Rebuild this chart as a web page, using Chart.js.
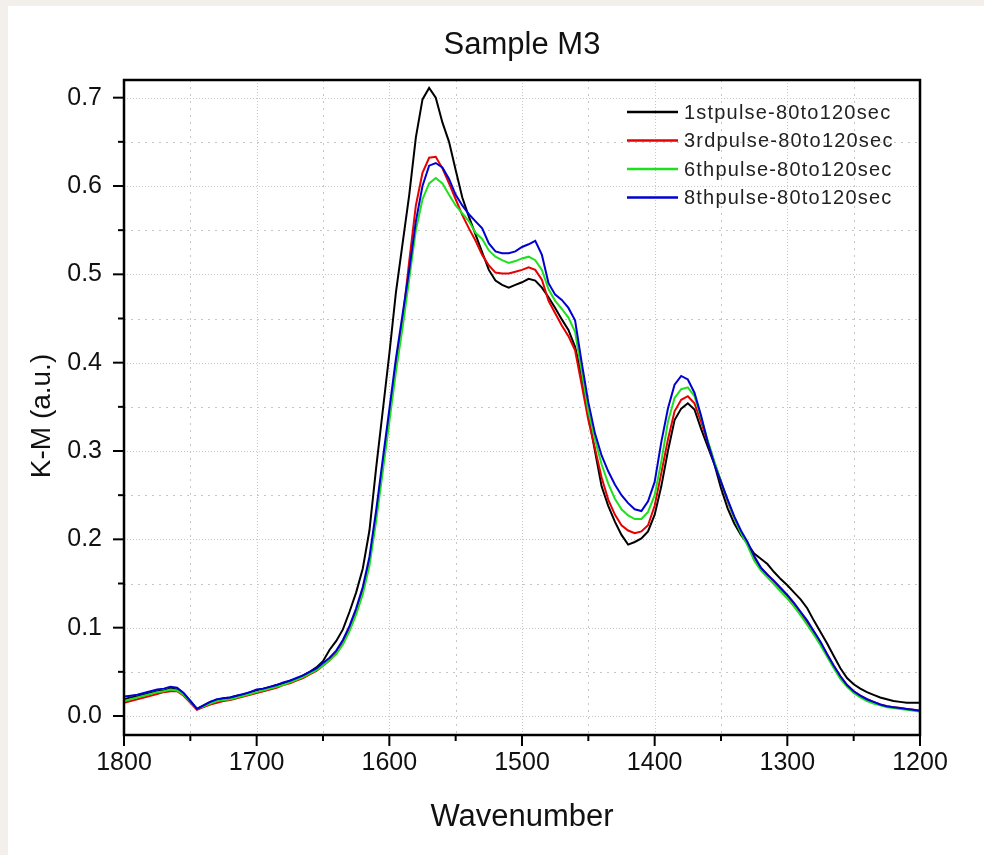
<!DOCTYPE html>
<html>
<head>
<meta charset="utf-8">
<script src="https://cdn.jsdelivr.net/npm/chart.js@4.4.0/dist/chart.umd.min.js"></script>
<style>
  html, body { margin: 0; padding: 0; background: #f3f0eb; }
  #card { position: absolute; left: 8px; top: 6px; right: 0; bottom: 0; background: #fff; }
  #grafico { position: absolute; left: 0; top: 0; }
</style>
</head>
<body>
<div id="card"></div>
<canvas id="grafico" width="984" height="855"></canvas>
<script>
// asse x (numero d'onda, da 1800 a 1200 ogni 5)
var wavenumbers = [
  1800,1795,1790,1785,1780,1775,1770,1765,1760,1755,
  1750,1745,1740,1735,1730,1725,1720,1715,1710,1705,
  1700,1695,1690,1685,1680,1675,1670,1665,1660,1655,
  1650,1645,1640,1635,1630,1625,1620,1615,1610,1605,
  1600,1595,1590,1585,1580,1575,1570,1565,1560,1555,
  1550,1545,1540,1535,1530,1525,1520,1515,1510,1505,
  1500,1495,1490,1485,1480,1475,1470,1465,1460,1455,
  1450,1445,1440,1435,1430,1425,1420,1415,1410,1405,
  1400,1395,1390,1385,1380,1375,1370,1365,1360,1355,
  1350,1345,1340,1335,1330,1325,1320,1315,1310,1305,
  1300,1295,1290,1285,1280,1275,1270,1265,1260,1255,
  1250,1245,1240,1235,1230,1225,1220,1215,1210,1205,
  1200
];

var pulse1 = [
  0.019,0.021,0.022,0.024,0.026,0.028,0.029,0.031,0.030,0.025,
  0.017,0.008,0.012,0.016,0.018,0.020,0.021,0.023,0.024,0.027,
  0.029,0.031,0.033,0.035,0.037,0.040,0.042,0.046,0.050,0.055,
  0.062,0.075,0.085,0.098,0.118,0.140,0.167,0.210,0.280,0.345,
  0.410,0.480,0.535,0.590,0.655,0.698,0.711,0.700,0.672,0.650,
  0.618,0.587,0.565,0.545,0.525,0.505,0.493,0.488,0.485,0.488,
  0.491,0.495,0.493,0.485,0.474,0.462,0.449,0.437,0.418,0.385,
  0.340,0.300,0.260,0.238,0.220,0.205,0.194,0.197,0.201,0.209,
  0.228,0.260,0.300,0.335,0.348,0.354,0.347,0.325,0.305,0.285,
  0.258,0.235,0.218,0.205,0.195,0.184,0.178,0.172,0.163,0.155,
  0.148,0.140,0.132,0.122,0.108,0.095,0.082,0.068,0.054,0.043,
  0.036,0.031,0.027,0.024,0.021,0.019,0.017,0.016,0.015,0.015,
  0.015
];

var pulse3 = [
  0.015,0.017,0.019,0.021,0.023,0.025,0.027,0.028,0.028,0.023,
  0.015,0.007,0.010,0.013,0.015,0.017,0.018,0.020,0.022,0.024,
  0.026,0.028,0.030,0.032,0.035,0.037,0.040,0.043,0.047,0.051,
  0.057,0.063,0.071,0.083,0.098,0.118,0.142,0.175,0.226,0.283,
  0.340,0.397,0.448,0.515,0.578,0.615,0.632,0.633,0.620,0.603,
  0.585,0.567,0.552,0.538,0.522,0.510,0.502,0.501,0.501,0.503,
  0.505,0.508,0.505,0.494,0.470,0.456,0.442,0.430,0.414,0.375,
  0.335,0.303,0.270,0.245,0.228,0.216,0.210,0.207,0.209,0.216,
  0.238,0.275,0.313,0.345,0.358,0.362,0.354,0.333,0.310,0.287,
  0.265,0.243,0.224,0.208,0.195,0.179,0.168,0.160,0.152,0.144,
  0.136,0.127,0.117,0.106,0.095,0.083,0.070,0.057,0.045,0.035,
  0.028,0.023,0.019,0.016,0.013,0.011,0.010,0.009,0.008,0.007,
  0.006
];

var pulse6 = [
  0.017,0.019,0.021,0.023,0.025,0.027,0.028,0.030,0.029,0.024,
  0.016,0.008,0.011,0.014,0.017,0.018,0.019,0.021,0.023,0.025,
  0.027,0.029,0.031,0.033,0.035,0.038,0.041,0.044,0.048,0.052,
  0.057,0.063,0.070,0.081,0.096,0.115,0.138,0.170,0.220,0.276,
  0.333,0.390,0.440,0.495,0.550,0.585,0.603,0.609,0.603,0.590,
  0.578,0.569,0.560,0.547,0.540,0.527,0.520,0.516,0.513,0.515,
  0.518,0.520,0.516,0.505,0.483,0.470,0.461,0.451,0.435,0.390,
  0.345,0.313,0.285,0.263,0.246,0.234,0.227,0.223,0.223,0.231,
  0.250,0.288,0.333,0.360,0.370,0.372,0.362,0.338,0.312,0.288,
  0.266,0.244,0.224,0.207,0.193,0.176,0.165,0.157,0.149,0.141,
  0.133,0.124,0.114,0.103,0.092,0.080,0.067,0.054,0.042,0.033,
  0.026,0.021,0.017,0.014,0.012,0.010,0.009,0.008,0.007,0.006,
  0.005
];

var pulse8 = [
  0.022,0.023,0.024,0.026,0.028,0.030,0.031,0.033,0.032,0.026,
  0.017,0.008,0.012,0.016,0.019,0.020,0.021,0.023,0.025,0.027,
  0.030,0.031,0.033,0.035,0.038,0.040,0.043,0.046,0.050,0.054,
  0.060,0.066,0.074,0.086,0.102,0.122,0.146,0.180,0.232,0.290,
  0.347,0.405,0.455,0.505,0.560,0.600,0.623,0.626,0.621,0.608,
  0.590,0.578,0.568,0.560,0.552,0.535,0.526,0.524,0.524,0.526,
  0.531,0.534,0.538,0.522,0.490,0.477,0.471,0.462,0.448,0.400,
  0.355,0.320,0.295,0.277,0.262,0.250,0.241,0.234,0.232,0.243,
  0.265,0.310,0.348,0.375,0.385,0.381,0.366,0.340,0.310,0.285,
  0.265,0.245,0.226,0.210,0.197,0.181,0.168,0.160,0.153,0.145,
  0.137,0.128,0.118,0.108,0.096,0.084,0.070,0.057,0.045,0.035,
  0.028,0.023,0.019,0.016,0.013,0.011,0.010,0.009,0.008,0.007,
  0.006
];

var serie = ['1stpulse-80to120sec', '3rdpulse-80to120sec', '6thpulse-80to120sec', '8thpulse-80to120sec'];
var colori = ['#000000', '#e60000', '#1ee01e', '#0000d0'];
var xTicks = [1800, 1700, 1600, 1500, 1400, 1300, 1200];
var yTicks = [0, 0.1, 0.2, 0.3, 0.4, 0.5, 0.6, 0.7];

var FONT = '"Liberation Sans", Arial, sans-serif';
Chart.defaults.font.family = FONT;
Chart.defaults.color = '#111';

function punti(valori) {
  return wavenumbers.map(function(w, i) { return { x: w, y: valori[i] }; });
}

// griglia tratteggiata, cornice, tacche, legenda e titoli
var decorazioni = {
  id: 'decorazioni',
  beforeDatasetsDraw: function(chart) {
    var ctx = chart.ctx, a = chart.chartArea, x = chart.scales.x, y = chart.scales.y;
    ctx.save();
    ctx.strokeStyle = '#c6c6c6';
    ctx.lineWidth = 1;
    for (var w = 1750; w > 1200; w -= 50) {
      var px = Math.round(x.getPixelForValue(w)) + 0.5;
      ctx.setLineDash(w % 100 === 0 ? [1, 2] : [2, 5]);
      ctx.beginPath(); ctx.moveTo(px, a.top); ctx.lineTo(px, a.bottom); ctx.stroke();
    }
    for (var k = 0; k <= 14; k++) {
      var py = Math.round(y.getPixelForValue(k * 0.05)) + 0.5;
      ctx.setLineDash(k % 2 === 0 ? [1, 2] : [2, 5]);
      ctx.beginPath(); ctx.moveTo(a.left, py); ctx.lineTo(a.right, py); ctx.stroke();
    }
    ctx.restore();
  },
  afterDatasetsDraw: function(chart) {
    var ctx = chart.ctx, a = chart.chartArea, x = chart.scales.x, y = chart.scales.y;
    ctx.save();
    ctx.strokeStyle = '#000';
    // tacche asse x
    ctx.lineWidth = 2;
    for (var w = 1800; w >= 1200; w -= 50) {
      var px = x.getPixelForValue(w);
      var len = w % 100 === 0 ? 11 : 6;
      ctx.beginPath(); ctx.moveTo(px, a.bottom); ctx.lineTo(px, a.bottom + len); ctx.stroke();
    }
    // tacche asse y
    for (var k = 0; k <= 14; k++) {
      var py = y.getPixelForValue(k * 0.05);
      var l = k % 2 === 0 ? 11 : 6;
      ctx.beginPath(); ctx.moveTo(a.left, py); ctx.lineTo(a.left - l, py); ctx.stroke();
    }
    // cornice
    ctx.lineWidth = 2.5;
    ctx.strokeRect(a.left, a.top, a.right - a.left, a.bottom - a.top);

    // legenda dentro il grafico
    ctx.font = '20px ' + FONT;
    ctx.textBaseline = 'middle';
    ctx.letterSpacing = '1.2px';
    chart.data.datasets.forEach(function(ds, i) {
      var ly = a.top + 32 + i * 28.5;
      ctx.strokeStyle = ds.borderColor;
      ctx.lineWidth = 2.5;
      ctx.beginPath(); ctx.moveTo(a.left + 503, ly); ctx.lineTo(a.left + 554, ly); ctx.stroke();
      ctx.fillStyle = '#222';
      ctx.fillText(ds.label, a.left + 560, ly + 1);
    });
    ctx.letterSpacing = '0px';

    // titolo
    ctx.font = '31px ' + FONT;
    ctx.textAlign = 'center';
    ctx.fillStyle = '#111';
    ctx.fillText('Sample M3', (a.left + a.right) / 2, 45);

    // titolo asse y
    ctx.font = '28px ' + FONT;
    ctx.translate(42, 416);
    ctx.rotate(-Math.PI / 2);
    ctx.fillText('K-M (a.u.)', 0, 0);
    ctx.restore();
  }
};

var chart = new Chart(document.getElementById('grafico'), {
  type: 'line',
  data: {
    datasets: serie.map(function(nome, i) {
      return {
        label: nome,
        data: punti([pulse1, pulse3, pulse6, pulse8][i]),
        borderColor: colori[i],
        borderWidth: 2,
        pointRadius: 0,
        tension: 0,
        fill: false,
        order: 3 - i
      };
    })
  },
  options: {
    responsive: false,
    animation: false,
    devicePixelRatio: 1,
    layout: { padding: { left: 20, right: 64, top: 80, bottom: 10 } },
    plugins: { legend: { display: false }, tooltip: { enabled: false }, title: { display: false } },
    scales: {
      x: {
        type: 'linear',
        reverse: true,
        min: 1200,
        max: 1800,
        afterBuildTicks: function(s) { s.ticks = xTicks.map(function(v) { return { value: v }; }); },
        afterFit: function(s) { s.height = 110; },
        grid: { display: false, drawTicks: false },
        border: { display: false },
        ticks: { font: { size: 25 }, padding: 13, maxRotation: 0, color: '#111', callback: function(v) { return String(v); } },
        title: { display: true, text: 'Wavenumber', font: { size: 31 }, color: '#111', padding: { top: 0, bottom: 9 } }
      },
      y: {
        type: 'linear',
        min: -0.0215,
        max: 0.72,
        afterBuildTicks: function(s) { s.ticks = yTicks.map(function(v) { return { value: v }; }); },
        afterFit: function(s) { s.width = 104; },
        grid: { display: false, drawTicks: false },
        border: { display: false },
        ticks: { font: { size: 25 }, padding: 22, color: '#111', callback: function(v) { return v.toFixed(1); } },
        title: { display: false }
      }
    }
  },
  plugins: [decorazioni]
});
</script>
</body>
</html>
